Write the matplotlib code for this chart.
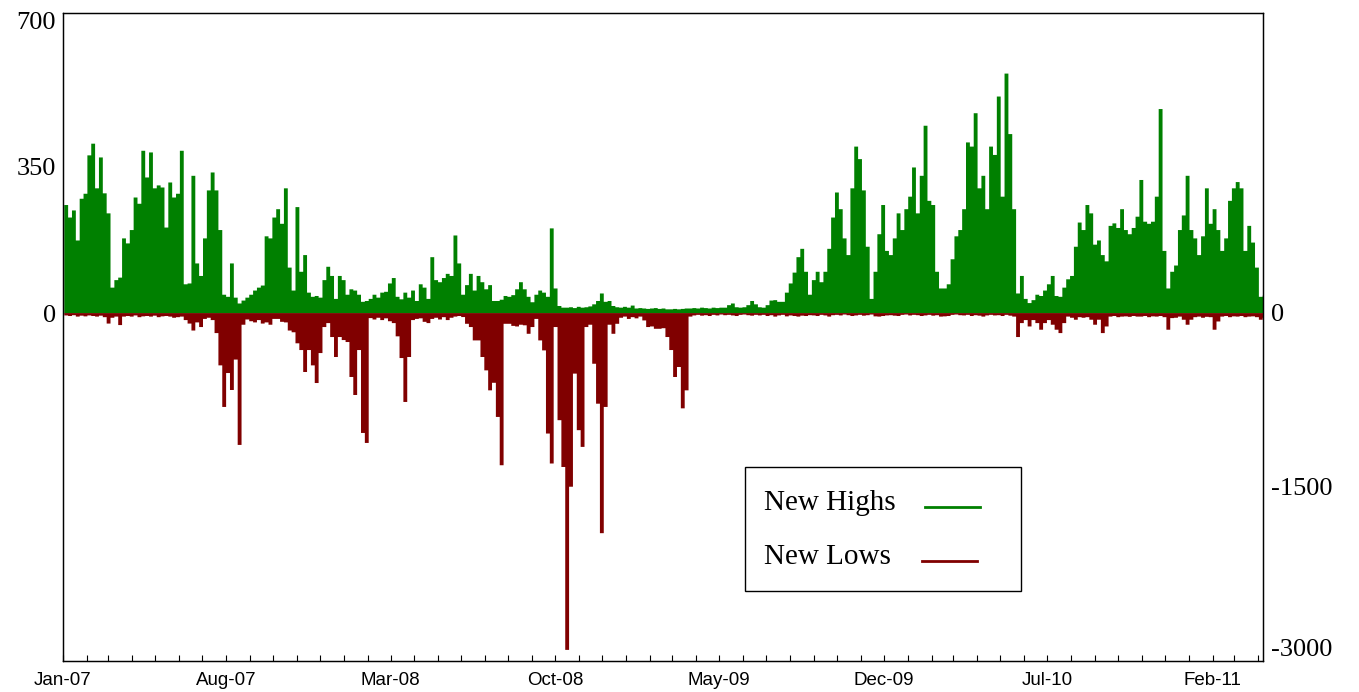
import pandas as pd
import matplotlib
matplotlib.use("Agg")
import matplotlib.pyplot as plt
import matplotlib.dates as mdates
from matplotlib.lines import Line2D
from matplotlib.patches import Rectangle

# values, one value per 5 calendar days from 2 Jan 2007
start_date = "2007-01-02"
step_days = 5

new_highs = [
    260, 230, 247, 175, 275, 287, 379, 407, 300, 374,
    288, 240, 62, 80, 86, 180, 168, 200, 278, 263,
    390, 326, 386, 300, 307, 302, 206, 314, 278, 287,
    390, 70, 72, 330, 120, 90, 180, 295, 338, 295,
    200, 45, 40, 120, 38, 24, 31, 38, 45, 55,
    62, 67, 185, 180, 230, 250, 215, 300, 110, 55,
    255, 100, 140, 50, 40, 42, 38, 80, 112, 90,
    35, 90, 80, 45, 58, 55, 45, 28, 30, 35,
    45, 38, 50, 52, 72, 85, 40, 34, 50, 38,
    55, 30, 70, 62, 35, 135, 80, 75, 85, 95,
    90, 187, 120, 45, 68, 95, 55, 90, 75, 58,
    68, 30, 30, 33, 42, 40, 44, 58, 75, 58,
    40, 27, 45, 55, 50, 40, 204, 60, 18, 14,
    14, 15, 13, 16, 14, 15, 17, 22, 30, 48,
    28, 30, 18, 15, 14, 16, 14, 19, 12, 13,
    12, 11, 12, 13, 11, 12, 10, 10, 11, 10,
    11, 12, 12, 13, 12, 14, 13, 12, 14, 13,
    14, 14, 20, 24, 15, 14, 15, 20, 30, 22,
    15, 14, 20, 31, 32, 28, 28, 50, 72, 98,
    135, 155, 100, 45, 80, 100, 75, 100, 155, 230,
    290, 250, 180, 140, 300, 400, 370, 295, 160, 35,
    100, 190, 260, 150, 140, 180, 240, 200, 250, 280,
    350, 240, 330, 450, 270, 260, 100, 60, 60, 70,
    130, 185, 200, 250, 410, 400, 480, 300, 330, 250,
    400, 380, 520, 280, 575, 430, 250, 48, 90, 35,
    25, 32, 45, 42, 55, 70, 90, 42, 40, 62,
    82, 90, 160, 218, 200, 260, 240, 165, 175, 140,
    125, 210, 216, 205, 250, 200, 190, 205, 232, 320,
    220, 215, 220, 280, 490, 150, 60, 100, 115, 200,
    235, 330, 200, 180, 140, 185, 300, 215, 250, 200,
    150, 180, 270, 300, 315, 300, 150, 210, 170, 110,
    40, 43,
]

new_lows = [
    -20, -25, -18, -30, -22, -28, -20, -25, -30, -22,
    -35, -90, -40, -30, -103, -30, -25, -30, -20, -35,
    -28, -25, -30, -22, -35, -28, -25, -30, -40, -35,
    -30, -60, -90, -150, -80, -120, -50, -40, -60, -172,
    -450, -808, -516, -662, -400, -1135, -100, -55, -70, -80,
    -60, -90, -80, -100, -50, -50, -75, -80, -150, -165,
    -260, -318, -507, -318, -450, -602, -344, -120, -86, -206,
    -378, -206, -232, -249, -550, -705, -318, -1032, -1118, -43,
    -55, -40, -60, -45, -70, -86, -200, -387, -765, -378,
    -60, -50, -45, -75, -86, -50, -40, -55, -35, -60,
    -40, -30, -25, -34, -92, -120, -235, -235, -378, -493,
    -665, -600, -894, -1310, -92, -92, -110, -115, -100, -105,
    -178, -120, -50, -235, -321, -1037, -1295, -120, -922, -1325,
    -2900, -1495, -521, -1008, -1152, -120, -100, -436, -780, -1895,
    -808, -100, -178, -92, -40, -30, -50, -35, -45, -30,
    -63, -120, -115, -135, -135, -130, -206, -318, -550, -464,
    -820, -665, -30, -20, -15, -22, -18, -25, -15, -20,
    -12, -18, -15, -20, -25, -15, -12, -18, -22, -15,
    -20, -15, -25, -18, -30, -20, -15, -28, -20, -25,
    -30, -22, -25, -18, -20, -25, -15, -20, -30, -18,
    -15, -20, -12, -18, -25, -20, -15, -22, -18, -12,
    -28, -30, -25, -20, -18, -22, -25, -15, -12, -20,
    -15, -18, -25, -20, -15, -22, -18, -30, -28, -25,
    -15, -12, -18, -20, -15, -25, -18, -22, -30, -20,
    -15, -20, -18, -25, -15, -22, -30, -206, -86, -60,
    -115, -60, -86, -143, -86, -60, -100, -143, -172, -86,
    -30, -40, -57, -35, -40, -35, -57, -100, -57, -172,
    -115, -30, -25, -35, -30, -28, -32, -25, -30, -30,
    -25, -35, -28, -30, -25, -35, -143, -43, -40, -30,
    -57, -100, -57, -35, -30, -40, -32, -35, -143, -72,
    -30, -25, -35, -28, -30, -25, -35, -30, -28, -35,
    -57, -40,
]

tick_dates = ["2007-01-01", "2007-08-01", "2008-03-01", "2008-10-01",
              "2009-05-01", "2009-12-01", "2010-07-01", "2011-02-01"]
tick_labels = ["Jan-07", "Aug-07", "Mar-08", "Oct-08",
               "May-09", "Dec-09", "Jul-10", "Feb-11"]

left_ticks = [0, 350, 700]
right_ticks = [0, -1500, -3000]

green = "#008000"
red = "#800000"
serif = "Liberation Serif"

# bin edges: one more than the number of values, drawn as a filled step
edges = pd.date_range(start_date, periods=len(new_highs) + 1, freq=f"{step_days}D")
highs_step = new_highs + new_highs[-1:]
lows_step = new_lows + new_lows[-1:]

fig = plt.figure(figsize=(13.59, 6.92), dpi=100)
ax = fig.add_axes([63 / 1359, 1 - 661 / 692, 1200 / 1359, 648 / 692])
ax2 = ax.twinx()

ax.fill_between(edges, highs_step, 0, step="post", color=green, linewidth=0)
ax2.fill_between(edges, lows_step, 0, step="post", color=red, linewidth=0)

ax.set_xlim(pd.Timestamp("2007-01-01"), pd.Timestamp("2011-04-07"))
ax.set_ylim(-834, 719)
ax2.set_ylim(-3000, 2580)

# x axis: labels every 7 months, small inward ticks every month
ax.set_xticks(pd.to_datetime(tick_dates))
ax.set_xticklabels(tick_labels, fontfamily="Liberation Sans", fontsize=13.5)
ax.xaxis.set_minor_locator(mdates.MonthLocator())
ax.tick_params(axis="x", which="both", direction="in", length=4,
               width=0.8, pad=8, top=False)

# left axis (new highs)
ax.set_yticks(left_ticks)
ax.set_yticklabels([str(v) for v in left_ticks], fontfamily=serif, fontsize=19)
ax.tick_params(axis="y", length=0, pad=5)

# right axis (new lows)
ax2.set_yticks(right_ticks)
ax2.set_yticklabels([str(v) for v in right_ticks], fontfamily=serif, fontsize=19)
ax2.tick_params(axis="y", length=0, pad=6)
ax2.get_yticklabels()[-1].set_verticalalignment("bottom")

for a in (ax, ax2):
    for s in a.spines.values():
        s.set_linewidth(0.9)
        s.set_color("black")

# legend box drawn by hand: labels on the left, line samples on the right
fig.patches.append(Rectangle((745 / 1359, 1 - 591 / 692), 276 / 1359, 124 / 692,
                             transform=fig.transFigure, facecolor="white",
                             edgecolor="black", linewidth=1.0, zorder=5))
fig.text(764 / 1359, 1 - 503 / 692, "New Highs", fontfamily=serif,
         fontsize=21, va="center", ha="left", zorder=6)
fig.text(764 / 1359, 1 - 557 / 692, "New Lows", fontfamily=serif,
         fontsize=21, va="center", ha="left", zorder=6)
fig.lines.append(Line2D([925 / 1359, 980 / 1359], [1 - 507 / 692] * 2,
                        transform=fig.transFigure, color=green, linewidth=2, zorder=6))
fig.lines.append(Line2D([922 / 1359, 977 / 1359], [1 - 561 / 692] * 2,
                        transform=fig.transFigure, color=red, linewidth=2, zorder=6))

fig.savefig("out.png", dpi=100)
